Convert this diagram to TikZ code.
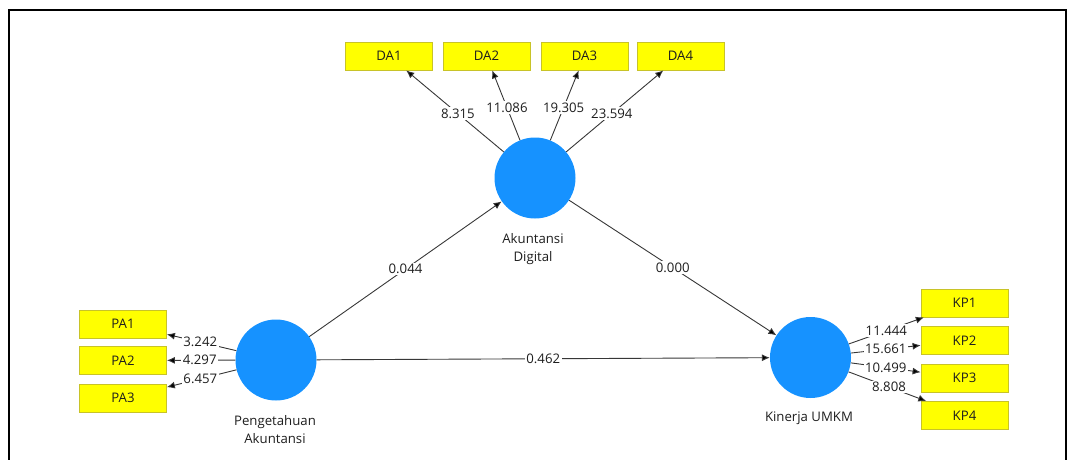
\documentclass[tikz,border=0pt]{standalone}
\usepackage{fontspec}
\setmainfont{Open Sans}
\usetikzlibrary{arrows.meta}
\definecolor{latentblue}{RGB}{22,146,255}
\definecolor{boxfill}{RGB}{255,255,0}
\definecolor{boxline}{RGB}{200,195,40}
\definecolor{linegray}{RGB}{55,55,55}
\definecolor{txt}{RGB}{30,30,30}
\tikzset{
  indbox/.style={draw=boxline, fill=boxfill, line width=0.8pt, minimum width=87pt, minimum height=28pt, inner sep=0pt, font=\fontsize{13.2}{15}\selectfont, text=txt},
  latent/.style={circle, fill=latentblue, minimum size=81pt, inner sep=0pt},
  latlabel/.style={align=center, font=\fontsize{13.2}{18}\selectfont, text=txt},
  conn/.style={draw=linegray, line width=0.9pt, -{Latex[length=8pt,width=7pt,fill=black]}},
  wlbl/.style={fill=white, inner sep=1.5pt, font=\fontsize{13.2}{15}\selectfont, text=txt}
}
\begin{document}
\begin{tikzpicture}[x=1pt,y=-1pt]
\useasboundingbox (0,0) rectangle (1069,459);
% frame
\draw[line width=2.2pt, line join=miter] (9,461) -- (9,10) -- (1066,10) -- (1066,461);

% latent variables
\node[latent] (AD) at (535,178) {};
\node[latent] (PA) at (276,360) {};
\node[latent] (KU) at (810.5,357.5) {};

\node[latlabel] (ADl) at (533,249.5) {Akuntansi\\Digital};
\node[latlabel] (PAl) at (275,429.5) {Pengetahuan\\Akuntansi};
\node[latlabel] (KUl) at (809,418) {Kinerja UMKM};

% indicators
\node[indbox] (DA1) at (389,56) {DA1};
\node[indbox] (DA2) at (486.5,56) {DA2};
\node[indbox] (DA3) at (584.5,56) {DA3};
\node[indbox] (DA4) at (680.5,56) {DA4};

\node[indbox] (PA1) at (123,324) {PA1};
\node[indbox] (PA2) at (123,360.5) {PA2};
\node[indbox] (PA3) at (123,398) {PA3};

\node[indbox] (KP1) at (964.5,303) {KP1};
\node[indbox] (KP2) at (964.5,340.5) {KP2};
\node[indbox] (KP3) at (964.5,378) {KP3};
\node[indbox] (KP4) at (964.5,415.5) {KP4};

% outer loadings
\draw[conn] (AD) -- node[wlbl,pos=0.47] {8.315} (DA1);
\draw[conn] (AD) -- node[wlbl,pos=0.47] {11.086} (DA2);
\draw[conn] (AD) -- node[wlbl,pos=0.47] {19.305} (DA3);
\draw[conn] (AD) -- node[wlbl,pos=0.47] {23.594} (DA4);

\draw[conn] (PA) -- node[wlbl,pos=0.52] {3.242} (PA1);
\draw[conn] (PA) -- node[wlbl,pos=0.52] {4.297} (PA2);
\draw[conn] (PA) -- node[wlbl,pos=0.52] {6.457} (PA3);

\draw[conn] (KU) -- node[wlbl,pos=0.5] {11.444} (KP1);
\draw[conn] (KU) -- node[wlbl,pos=0.5] {15.661} (KP2);
\draw[conn] (KU) -- node[wlbl,pos=0.5] {10.499} (KP3);
\draw[conn] (KU) -- node[wlbl,pos=0.52] {8.808} (KP4);

% inner paths
\draw[conn] (PA) -- node[wlbl,pos=0.5] {0.044} (AD);
\draw[conn] (AD) -- node[wlbl,pos=0.5] {0.000} (KU);
\draw[conn] (PA) -- node[wlbl,pos=0.5] {0.462} (KU);
\end{tikzpicture}
\end{document}
